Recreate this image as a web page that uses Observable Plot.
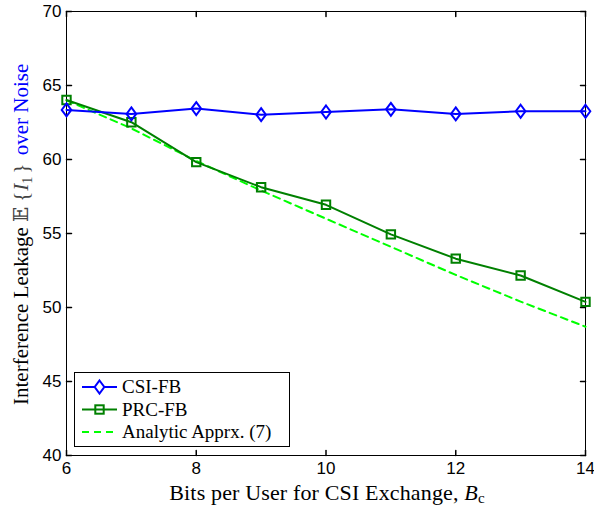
<!DOCTYPE html>
<html>
<head>
<meta charset="utf-8">
<script src="https://cdn.jsdelivr.net/npm/d3@7"></script>
<script src="https://cdn.jsdelivr.net/npm/@observablehq/plot@0.6"></script>
<style>
  html, body { margin: 0; padding: 0; background: #fff; }
  #chart svg { display: block; }
</style>
</head>
<body>
<div id="chart"></div>
<script>
const bits = [6, 7, 8, 9, 10, 11, 12, 13, 14];
const csiFB = [63.35, 63.08, 63.44, 63.03, 63.21, 63.39, 63.08, 63.26, 63.26];
const prcFB = [64.02, 62.52, 59.82, 58.13, 56.94, 54.94, 53.30, 52.16, 50.38];
const analytic = [64.0, 62.1, 59.9, 57.9, 56.0, 54.1, 52.2, 50.4, 48.7];
const xTicks = [6, 8, 10, 12, 14];
const yTicks = [40, 45, 50, 55, 60, 65, 70];
const seriesNames = ["CSI-FB", "PRC-FB", "Analytic Apprx. (7)"];

const csiData = bits.map((b, i) => ({b, v: csiFB[i]}));
const prcData = bits.map((b, i) => ({b, v: prcFB[i]}));
const anaData = bits.map((b, i) => ({b, v: analytic[i]}));

const diamond = {draw(ctx) { ctx.moveTo(0, -6.5); ctx.lineTo(4.8, 0); ctx.lineTo(0, 6.5); ctx.lineTo(-4.8, 0); ctx.closePath(); }};
const square = {draw(ctx) { ctx.rect(-4.2, -4.2, 8.4, 8.4); }};
const tickShape = {draw(ctx, l) { ctx.moveTo(0, 0); ctx.lineTo(0, -l); }};

const W = 594, H = 508;
const mL = 66, mR = 9, mT = 11, mB = 53;
const tickFont = "Liberation Sans, Arial, sans-serif";
const serif = "Liberation Serif, Times New Roman, serif";

const plot = Plot.plot({
  width: W, height: H,
  marginLeft: mL, marginRight: mR, marginTop: mT, marginBottom: mB,
  style: {fontFamily: tickFont, fontSize: "17px", background: "#fff"},
  x: {domain: [6, 14], axis: null},
  y: {domain: [40, 70], axis: null},
  marks: [
    Plot.frame({stroke: "#000", strokeWidth: 1}),
    // inward ticks on all four sides
    Plot.vector(xTicks, {x: d => d, y: 40, length: 5, rotate: 0, anchor: "start", shape: tickShape, stroke: "#000"}),
    Plot.vector(xTicks, {x: d => d, y: 70, length: 5, rotate: 180, anchor: "start", shape: tickShape, stroke: "#000"}),
    Plot.vector(yTicks, {y: d => d, x: 6, length: 5, rotate: 90, anchor: "start", shape: tickShape, stroke: "#000"}),
    Plot.vector(yTicks, {y: d => d, x: 14, length: 5, rotate: 270, anchor: "start", shape: tickShape, stroke: "#000"}),
    // tick labels
    Plot.text(xTicks, {x: d => d, y: 40, text: d => String(d), dy: 13, fill: "#000", fontSize: 17}),
    Plot.text(yTicks, {y: d => d, x: 6, text: d => String(d), dx: -5, textAnchor: "end", fill: "#000", fontSize: 17}),
    // series
    Plot.line(anaData, {x: "b", y: "v", stroke: "#00ff00", strokeWidth: 2, strokeDasharray: "7,5"}),
    Plot.line(prcData, {x: "b", y: "v", stroke: "#008000", strokeWidth: 2}),
    Plot.dot(prcData, {x: "b", y: "v", symbol: square, stroke: "#008000", strokeWidth: 2, fill: "none"}),
    Plot.line(csiData, {x: "b", y: "v", stroke: "#0000ff", strokeWidth: 2}),
    Plot.dot(csiData, {x: "b", y: "v", symbol: diamond, stroke: "#0000ff", strokeWidth: 2, fill: "none"})
  ]
});

document.getElementById("chart").appendChild(plot);
const svg = d3.select(plot);

// x axis label
const xl = svg.append("text")
  .attr("x", 327).attr("y", 500)
  .attr("text-anchor", "middle")
  .attr("font-family", serif).attr("font-size", 22).attr("letter-spacing", 0.15).attr("fill", "#000");
xl.append("tspan").text("Bits per User for CSI Exchange, ");
xl.append("tspan").attr("font-style", "italic").text("B");
xl.append("tspan").attr("font-size", 15).attr("dy", 3).text("c");

// y axis label
const yl = svg.append("text")
  .attr("transform", `translate(28,405) rotate(-90)`)
  .attr("text-anchor", "start")
  .attr("font-family", serif).attr("font-size", 21).attr("fill", "#000");
yl.append("tspan").text("Interference Leakage ");
yl.append("tspan").attr("fill", "#444").attr("font-family", "DejaVu Serif, DejaVu Sans, serif").attr("font-size", 20).text("𝔼");
yl.append("tspan").attr("fill", "#444").attr("dx", 5).text("{");
yl.append("tspan").attr("fill", "#444").attr("dx", 1).attr("font-style", "italic").text("I");
yl.append("tspan").attr("fill", "#444").attr("font-size", 14).attr("dy", 4).text("1");
yl.append("tspan").attr("fill", "#444").attr("dx", 3).attr("dy", -4).text("}");
yl.append("tspan").attr("fill", "#0000ff").attr("dx", 3).text(" over Noise");

// legend
const lg = svg.append("g");
lg.append("rect").attr("x", 74.5).attr("y", 372.5).attr("width", 215).attr("height", 74)
  .attr("fill", "#fff").attr("stroke", "#000").attr("stroke-width", 1);
const rows = [
  {name: seriesNames[0], color: "#0000ff", dash: null, sym: "diamond"},
  {name: seriesNames[1], color: "#008000", dash: null, sym: "square"},
  {name: seriesNames[2], color: "#00ff00", dash: "7,5", sym: null}
];
rows.forEach((r, i) => {
  const y = 387 + i * 22.5;
  lg.append("line").attr("x1", 82).attr("x2", 117).attr("y1", y).attr("y2", y)
    .attr("stroke", r.color).attr("stroke-width", 2).attr("stroke-dasharray", r.dash);
  if (r.sym === "diamond") {
    lg.append("path").attr("d", "M99.5,380.5L104.3,387L99.5,393.5L94.7,387Z")
      .attr("transform", `translate(0,${y - 387})`)
      .attr("fill", "#fff").attr("stroke", r.color).attr("stroke-width", 2);
  } else if (r.sym === "square") {
    lg.append("rect").attr("x", 95.3).attr("y", y - 4.2).attr("width", 8.4).attr("height", 8.4)
      .attr("fill", "none").attr("stroke", r.color).attr("stroke-width", 2);
  }
  lg.append("text").attr("x", 122).attr("y", y + 6)
    .attr("text-anchor", "start")
    .attr("font-family", serif).attr("font-size", 19).attr("fill", "#000").text(r.name);
});
</script>
</body>
</html>
